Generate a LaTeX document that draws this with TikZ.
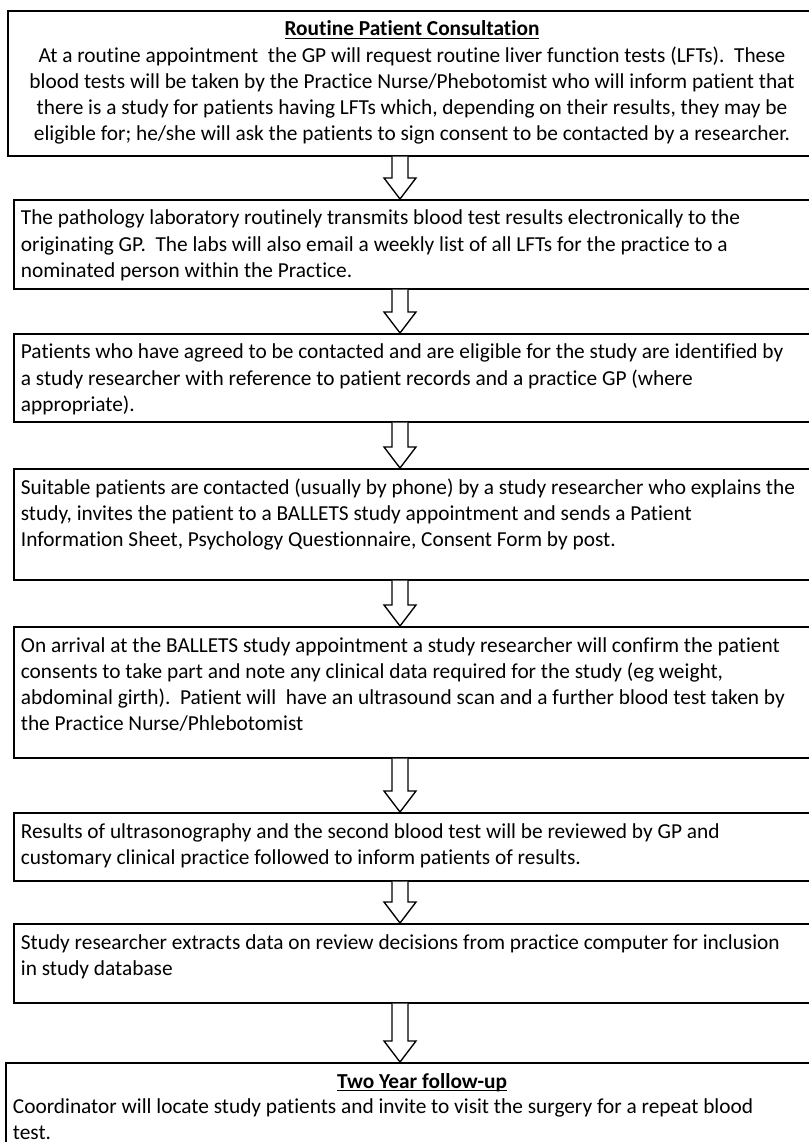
\documentclass[tikz,border=0pt]{standalone}
\usepackage{fontspec}
\setmainfont{Carlito}[Ligatures=NoCommon]
\usetikzlibrary{calc}
\newlength\pxu
\setlength\pxu{0.5155pt}
% bold heading with an underline just below the baseline
\newcommand\headline[1]{\underline{\smash{\textbf{#1}}}}
\tikzset{
  flowbox/.style={draw=black, line width=0.8pt, rectangle, inner sep=0pt, anchor=north west},
  flowtext/.style={inner sep=0pt, anchor=base west, font=\fontsize{11}{13.43}\selectfont},
  centertext/.style={inner sep=0pt, anchor=base, font=\fontsize{11}{13.43}\selectfont},
  arrowline/.style={draw=black, line width=0.7pt, fill=white, line join=miter},
}
% a box given by name, left, top, bottom, right (pixel-like units)
\newcommand\stepbox[5]{%
  \node[flowbox, minimum width={(#5-#2)*\pxu}, minimum height={(#4-#3)*\pxu}] (#1) at (#2,#3) {};}
% hollow block arrow from the bottom of one box to the top of the next
\newcommand\flowarrow[2]{%
  \path (#1.south -| ax) coordinate (ta) (#2.north -| ax) coordinate (tb);
  \draw[arrowline] ($(ta)+(-8,0)$) -- ($(tb)+(-8,-21)$) -- ($(tb)+(-16,-21)$) -- (tb)
    -- ($(tb)+(16,-21)$) -- ($(tb)+(8,-21)$) -- ($(ta)+(8,0)$);}
\begin{document}
\begin{tikzpicture}[x=\pxu, y=-\pxu]
\useasboundingbox (0,0) rectangle (808,1142);
\coordinate (ax) at (400,0);

\stepbox{b1}{7}{10}{155}{817}
\stepbox{b2}{13}{199}{288}{830}
\stepbox{b3}{13}{333}{421}{830}
\stepbox{b4}{13}{468}{579}{830}
\stepbox{b5}{13}{626}{757}{830}
\stepbox{b6}{13}{812}{880}{830}
\stepbox{b7}{13}{923}{1002}{830}
\stepbox{b8}{5}{1062}{1170}{839}

\node[centertext] (t1) at (412,36) {\parbox[t]{430pt}{\centering
  \headline{Routine Patient Consultation}\\
  At a routine appointment\ \ the GP will request routine liver function tests (LFTs).\ \ These\\
  blood tests will be taken by the Practice Nurse/Phebotomist who will inform patient that\\
  there is a study for patients having LFTs which, depending on their results, they may be\\
  eligible for; he/she will ask the patients to sign consent to be contacted by a researcher.}};

\node[flowtext] (t2) at (20.5,225) {\parbox[t]{440pt}{%
  The pathology laboratory routinely transmits blood test results electronically to the\\
  originating GP.\ \ The labs will also email a weekly list of all LFTs for the practice to a\\
  nominated person within the Practice.}};

\node[flowtext] (t3) at (20.5,359) {\parbox[t]{440pt}{%
  Patients who have agreed to be contacted and are eligible for the study are identified by\\
  a study researcher with reference to patient records and a practice GP (where\\
  appropriate).}};

\node[flowtext] (t4) at (20.5,494) {\parbox[t]{440pt}{%
  Suitable patients are contacted (usually by phone) by a study researcher who explains the\\
  study, invites the patient to a BALLETS study appointment and sends a Patient\\
  Information Sheet, Psychology Questionnaire, Consent Form by post.}};

\node[flowtext] (t5) at (20.5,652) {\parbox[t]{440pt}{%
  On arrival at the BALLETS study appointment a study researcher will confirm the patient\\
  consents to take part and note any clinical data required for the study (eg weight,\\
  abdominal girth).\ \ Patient will\ \ have an ultrasound scan and a further blood test taken by\\
  the Practice Nurse/Phlebotomist}};

\node[flowtext] (t6) at (20.5,838) {\parbox[t]{440pt}{%
  Results of ultrasonography and the second blood test will be reviewed by GP and\\
  customary clinical practice followed to inform patients of results.}};

\node[flowtext] (t7) at (20.5,949) {\parbox[t]{440pt}{%
  Study researcher extracts data on review decisions from practice computer for inclusion\\
  in study database}};

\node[centertext] (t8a) at (422,1088) {\headline{Two Year follow-up}};
\node[flowtext] (t8b) at (12.5,1113) {\parbox[t]{440pt}{%
  Coordinator will locate study patients and invite to visit the surgery for a repeat blood\\
  test.}};

\flowarrow{b1}{b2}
\flowarrow{b2}{b3}
\flowarrow{b3}{b4}
\flowarrow{b4}{b5}
\flowarrow{b5}{b6}
\flowarrow{b6}{b7}
\flowarrow{b7}{b8}
\end{tikzpicture}
\end{document}
